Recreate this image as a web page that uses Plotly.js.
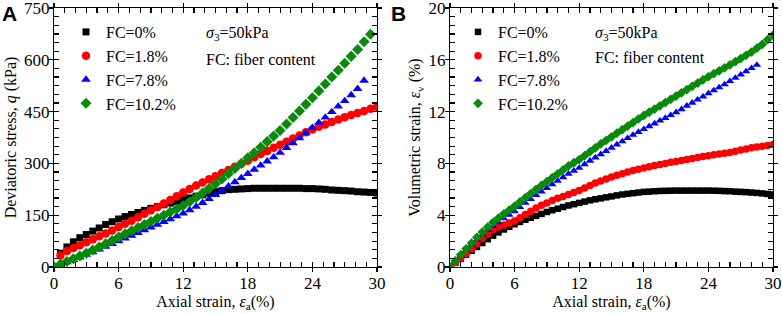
<!DOCTYPE html>
<html>
<head>
<meta charset="utf-8">
<script src="https://cdn.plot.ly/plotly-3.0.1.min.js"></script>
<style>html,body{margin:0;padding:0;background:#fff}#chart{width:782px;height:314px}</style>
</head>
<body>
<div id="chart"></div>
<script>
// ---- Data ----
const seriesNames = ['FC=0%', 'FC=1.8%', 'FC=7.8%', 'FC=10.2%'];

// Panel A: axial strain (%) vs deviatoric stress q (kPa)
const strainA = [0,0.6,1.2,1.8,2.4,3.0,3.6,4.2,4.8,5.4,6.0,6.6,7.2,7.8,8.4,9.0,9.6,10.2,10.8,11.4,12.0,12.6,13.2,13.8,14.4,15.0,15.6,16.2,16.8,17.4,18.0,18.6,19.2,19.8,20.4,21.0,21.6,22.2,22.8,23.4,24.0,24.6,25.2,25.8,26.4,27.0,27.6,28.2,28.8,29.4,30.0];
const qFC0 = [0,40,58,73,85,94,104,113,123,131,139,146,152,158,164,170,175,180,185,190,195,200,205,209,214,218,221,224,225,226,227,228,228,228,228,228,228,228,228,227,227,226,225,223,222,221,220,218,217,216,214];
const qFC18 = [0,33,46,55,63,72,80,89,97,106,116,125,134,144,154,164,174,184,194,205,216,226,236,245,254,263,272,281,290,299,308,318,327,336,345,354,363,372,381,390,398,406,413,420,427,434,440,446,452,458,464];
const qFC78 = [0,7,14,21,28,36,43,51,59,67,75,83,91,99,107,115,123,131,139,147,155,165,175,186,197,209,221,234,246,258,270,282,294,306,318,331,345,359,373,388,403,418,433,449,465,481,498,516,540];
const qFC102 = [0,8,16,24,32,40,49,58,67,77,87,96,105,114,123,132,141,150,159,168,178,189,201,214,227,241,255,270,285,300,316,331,347,363,379,395,414,433,452,471,490,510,530,550,570,590,610,630,652,674];

// Panel B: axial strain (%) vs volumetric strain (%)
const strainB = [0,0.5,1,1.5,2,2.5,3,3.5,4,4.5,5,5.5,6,6.5,7,7.5,8,8.5,9,9.5,10,10.5,11,11.5,12,12.5,13,13.5,14,14.5,15,15.5,16,16.5,17,17.5,18,18.5,19,19.5,20,20.5,21,21.5,22,22.5,23,23.5,24,24.5,25,25.5,26,26.5,27,27.5,28,28.5,29,29.5,30];
const evFC0 = [0,0.33,0.65,0.95,1.25,1.55,1.85,2.15,2.42,2.67,2.9,3.1,3.3,3.48,3.65,3.8,3.95,4.1,4.25,4.38,4.5,4.63,4.75,4.85,4.95,5.05,5.15,5.23,5.3,5.38,5.45,5.53,5.6,5.65,5.7,5.75,5.8,5.82,5.85,5.87,5.88,5.89,5.9,5.9,5.9,5.9,5.9,5.9,5.9,5.89,5.88,5.86,5.85,5.82,5.8,5.78,5.75,5.72,5.68,5.64,5.6];
const evFC18 = [0,0.35,0.7,1.05,1.4,1.8,2.2,2.55,2.9,3.08,3.25,3.4,3.55,3.8,4.05,4.3,4.55,4.76,4.95,5.13,5.3,5.45,5.6,5.75,5.9,6.1,6.3,6.48,6.65,6.8,6.95,7.08,7.2,7.33,7.45,7.55,7.65,7.74,7.83,7.92,8.0,8.08,8.15,8.23,8.3,8.38,8.45,8.53,8.6,8.66,8.72,8.79,8.85,8.94,9.03,9.12,9.2,9.27,9.33,9.39,9.45];
const evFC78 = [0,0.45,0.9,1.3,1.7,2.1,2.5,2.85,3.15,3.45,3.75,4.03,4.3,4.62,4.95,5.25,5.55,5.83,6.1,6.38,6.65,6.93,7.2,7.43,7.65,7.93,8.2,8.45,8.7,8.95,9.2,9.45,9.7,9.95,10.2,10.42,10.64,10.86,11.08,11.3,11.5,11.72,11.95,12.18,12.45,12.68,12.92,13.15,13.4,13.63,13.87,14.1,14.35,14.6,14.85,15.1,15.35,15.6];
const evFC102 = [0,0.48,0.95,1.4,1.85,2.28,2.7,3.08,3.45,3.78,4.1,4.4,4.7,5.02,5.35,5.67,6.0,6.3,6.6,6.9,7.2,7.5,7.8,8.05,8.3,8.6,8.9,9.2,9.5,9.78,10.05,10.33,10.6,10.88,11.15,11.43,11.7,11.95,12.2,12.45,12.7,12.95,13.2,13.45,13.7,13.95,14.2,14.45,14.7,14.93,15.15,15.38,15.6,15.85,16.1,16.35,16.6,16.9,17.2,17.55,17.9];

// ---- Styling ----
const colors = ['#000000', '#ff0000', '#0000ff', '#0a8a0a'];
const symbols = ['square', 'circle', 'triangle-up', 'diamond'];
const sizesA = [7, 8.5, 8.5, 8.5];
const sizesB = [6.5, 7.5, 7.5, 7.5];
const FONT = 'Liberation Serif, Times New Roman, serif';

const qSeries = [qFC0, qFC18, qFC78, qFC102];
const evSeries = [evFC0, evFC18, evFC78, evFC102];

const traces = [];
qSeries.forEach((ys, i) => {
  traces.push({
    x: strainA.slice(0, ys.length), y: ys, type: 'scatter', mode: 'markers',
    name: seriesNames[i], xaxis: 'x', yaxis: 'y', legend: 'legend',
    marker: {color: colors[i], symbol: symbols[i], size: sizesA[i]}
  });
});
evSeries.forEach((ys, i) => {
  traces.push({
    x: strainB.slice(0, ys.length), y: ys, type: 'scatter', mode: 'markers',
    name: seriesNames[i], xaxis: 'x2', yaxis: 'y2', legend: 'legend2',
    marker: {color: colors[i], symbol: symbols[i], size: sizesB[i]}
  });
});
// empty helper traces so the outward-tick overlay axes get drawn
[['x3', 'y'], ['x', 'y3'], ['x4', 'y2'], ['x2', 'y4']].forEach(([xa, ya]) => {
  traces.push({x: [], y: [], type: 'scatter', mode: 'markers', xaxis: xa, yaxis: ya,
    showlegend: false, hoverinfo: 'skip'});
});

const W = 782, H = 314;
const domA = [54 / W, 377 / W];
const domB = [450 / W, 773 / W];
const domY = [(H - 267) / H, (H - 8) / H];

function baseAxis(extra) {
  return Object.assign({
    showline: true, linecolor: '#000', linewidth: 1.2, mirror: 'allticks',
    ticks: 'inside', ticklen: 5, tickwidth: 1.2, tickcolor: '#000',
    showgrid: false, zeroline: false, fixedrange: true, ticklabeloverflow: 'allow',
    tickfont: {family: FONT, size: 17, color: '#000'}
  }, extra);
}
function overlayAxis(extra) {
  return Object.assign({
    showline: false, mirror: 'allticks', ticks: 'outside', ticklen: 4, tickwidth: 1.2,
    tickcolor: '#000', showticklabels: false, showgrid: false, zeroline: false, fixedrange: true
  }, extra);
}
const titleFont = {family: FONT, size: 16, color: '#000'};

const layout = {
  width: W, height: H, autosize: false,
  margin: {l: 0, r: 0, t: 0, b: 0},
  paper_bgcolor: '#fff', plot_bgcolor: '#fff',
  font: {family: FONT, size: 16, color: '#000'},
  xaxis: baseAxis({domain: domA, anchor: 'y', range: [0, 30], dtick: 6, tick0: 0,
    minor: {dtick: 1, ticks: 'inside', ticklen: 3, tickcolor: '#000'},
    title: {text: 'Axial strain, <i>ε</i><sub>a</sub>(%)', font: titleFont, standoff: 1}}),
  yaxis: baseAxis({domain: domY, anchor: 'x', range: [0, 750], dtick: 150, tick0: 0,
    minor: {dtick: 25, ticks: 'inside', ticklen: 3, tickcolor: '#000'},
    title: {text: 'Deviatoric stress, <i>q</i> (kPa)', font: titleFont, standoff: 3}}),
  xaxis2: baseAxis({domain: domB, anchor: 'y2', range: [0, 30], dtick: 6, tick0: 0,
    minor: {dtick: 1, ticks: 'inside', ticklen: 3, tickcolor: '#000'},
    title: {text: 'Axial strain, <i>ε</i><sub>a</sub>(%)', font: titleFont, standoff: 1}}),
  yaxis2: baseAxis({domain: domY, anchor: 'x2', range: [0, 20], dtick: 4, tick0: 0,
    minor: {dtick: 4 / 6, ticks: 'inside', ticklen: 3, tickcolor: '#000'},
    title: {text: 'Volumetric strain, <i>ε</i><sub>v</sub> (%)', font: titleFont, standoff: 3}}),
  xaxis3: overlayAxis({overlaying: 'x', anchor: 'y', range: [0, 30], dtick: 6, tick0: 0}),
  yaxis3: overlayAxis({overlaying: 'y', anchor: 'x', range: [0, 750], dtick: 150, tick0: 0}),
  xaxis4: overlayAxis({overlaying: 'x2', anchor: 'y2', range: [0, 30], dtick: 6, tick0: 0}),
  yaxis4: overlayAxis({overlaying: 'y2', anchor: 'x2', range: [0, 20], dtick: 4, tick0: 0}),
  showlegend: true,
  legend: {x: 66 / W, y: 1 - 15 / H, xanchor: 'left', yanchor: 'top', bgcolor: 'rgba(0,0,0,0)',
    font: {family: FONT, size: 16, color: '#000'}, tracegroupgap: 0},
  legend2: {x: 458 / W, y: 1 - 15 / H, xanchor: 'left', yanchor: 'top', bgcolor: 'rgba(0,0,0,0)',
    font: {family: FONT, size: 16, color: '#000'}, tracegroupgap: 0},
  annotations: [
    {xref: 'paper', yref: 'paper', x: 204 / W, y: 1 - 34 / H, xanchor: 'left', yanchor: 'middle',
      text: '<i>σ</i><sub>3</sub>=50kPa', showarrow: false, font: {family: FONT, size: 16, color: '#000'}},
    {xref: 'paper', yref: 'paper', x: 204 / W, y: 1 - 59 / H, xanchor: 'left', yanchor: 'middle',
      text: 'FC: fiber content', showarrow: false, font: {family: FONT, size: 16, color: '#000'}},
    {xref: 'paper', yref: 'paper', x: 593 / W, y: 1 - 34 / H, xanchor: 'left', yanchor: 'middle',
      text: '<i>σ</i><sub>3</sub>=50kPa', showarrow: false, font: {family: FONT, size: 16, color: '#000'}},
    {xref: 'paper', yref: 'paper', x: 593 / W, y: 1 - 58 / H, xanchor: 'left', yanchor: 'middle',
      text: 'FC: fiber content', showarrow: false, font: {family: FONT, size: 16, color: '#000'}},
    {xref: 'paper', yref: 'paper', x: 0, y: 1, xanchor: 'left', yanchor: 'top',
      text: '<b>A</b>', showarrow: false, font: {family: 'Liberation Sans, Arial, sans-serif', size: 21, color: '#000'}},
    {xref: 'paper', yref: 'paper', x: 389 / W, y: 1, xanchor: 'left', yanchor: 'top',
      text: '<b>B</b>', showarrow: false, font: {family: 'Liberation Sans, Arial, sans-serif', size: 21, color: '#000'}}
  ]
};

Plotly.newPlot('chart', traces, layout, {displayModeBar: false, staticPlot: true});
</script>
</body>
</html>
